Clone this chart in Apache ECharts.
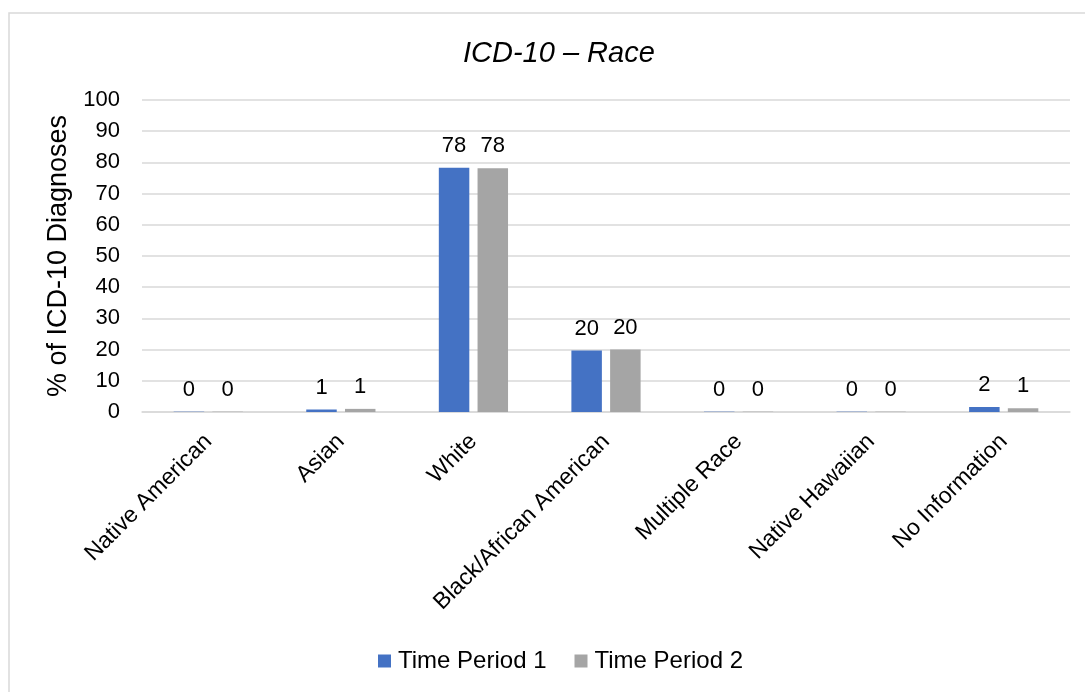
<!DOCTYPE html>
<html>
<head>
<meta charset="utf-8">
<script src="https://cdn.jsdelivr.net/npm/echarts@6/dist/echarts.min.js"></script>
<style>html,body{margin:0;padding:0;background:#fff;}#c{width:1085px;height:692px;}</style>
</head>
<body>
<div id="c"></div>
<script>
const categories = ["Native American", "Asian", "White", "Black/African American", "Multiple Race", "Native Hawaiian", "No Information"];
const period1 = [0.1, 0.8, 78.3, 19.7, 0.1, 0.1, 1.6];
const period2 = [0.1, 1.0, 78.1, 20.0, 0.1, 0.1, 1.2];
const seriesNames = ["Time Period 1", "Time Period 2"];
const titleText = "ICD-10 \u2013 Race";
const yAxisName = "% of ICD-10 Diagnoses";

const font = "Liberation Sans, Arial, sans-serif";
const chart = echarts.init(document.getElementById('c'));
const labelCfg = {
  show: true, position: 'top', distance: 11,
  color: '#000', fontSize: 22, fontFamily: font,
  formatter: p => Math.round(p.value)
};
chart.setOption({
  animation: false,
  backgroundColor: '#fff',
  graphic: [{
    type: 'rect', shape: {x: 9, y: 13, width: 1090, height: 700},
    style: {fill: 'none', stroke: '#d9d9d9', lineWidth: 1.5}, z: -1
  }],
  title: {
    text: titleText, left: 458, top: 34,
    textStyle: {fontFamily: font, fontStyle: 'italic', fontWeight: 'normal', fontSize: 29, color: '#000'}
  },
  legend: {
    data: seriesNames, bottom: 14, left: 373,
    itemWidth: 13, itemHeight: 13, itemGap: 28, icon: 'rect',
    textStyle: {fontFamily: font, fontSize: 24, color: '#000', padding: [0, 0, 0, 2]}
  },
  grid: {left: 142, right: 15, top: 100, bottom: 280, containLabel: false},
  xAxis: {
    type: 'category', data: categories,
    axisLine: {lineStyle: {color: '#d9d9d9', width: 1.5}},
    axisTick: {show: false},
    axisLabel: {rotate: 45, interval: 0, fontFamily: font, fontSize: 23, color: '#000', margin: 26}
  },
  yAxis: {
    type: 'value', min: 0, max: 100, interval: 10,
    name: yAxisName, nameLocation: 'middle', nameGap: 61,
    nameTextStyle: {fontFamily: font, fontSize: 27, color: '#000'},
    axisLine: {show: false}, axisTick: {show: false},
    axisLabel: {fontFamily: font, fontSize: 22, color: '#000', margin: 22},
    splitLine: {lineStyle: {color: '#d9d9d9', width: 1.5}}
  },
  series: [
    {name: seriesNames[0], type: 'bar', data: period1, barWidth: '23%', barGap: '27%',
     itemStyle: {color: '#4472C4'}, label: labelCfg},
    {name: seriesNames[1], type: 'bar', data: period2, barWidth: '23%', barGap: '27%',
     itemStyle: {color: '#A5A5A5'}, label: labelCfg}
  ]
});
</script>
</body>
</html>
